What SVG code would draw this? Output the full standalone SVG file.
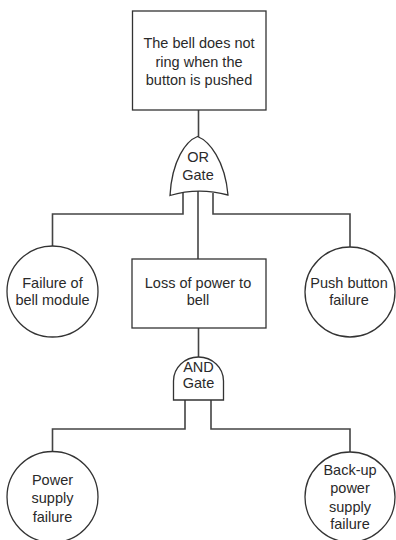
<svg xmlns="http://www.w3.org/2000/svg" width="396" height="540" viewBox="0 0 396 540">
  <style>
    .shape { fill: #ffffff; stroke: #333333; stroke-width: 1.3; }
    .wire { fill: none; stroke: #444444; stroke-width: 1.6; }
    text { font-family: "Liberation Sans", Arial, sans-serif; font-size: 14.5px; fill: #2a2a2a; text-anchor: middle; }
  </style>
  <rect width="396" height="540" fill="#ffffff"/>

  <!-- connectors -->
  <g id="connectors">
    <path class="wire" d="M198.5,110 V137"/>
    <path class="wire" d="M183,193 V214 H52.5 V246"/>
    <path class="wire" d="M198,191 V259"/>
    <path class="wire" d="M213,193 V214 H350 V247"/>
    <path class="wire" d="M198.5,328 V357"/>
    <path class="wire" d="M185,400 V429 H52.5 V452"/>
    <path class="wire" d="M211,400 V429 H350 V452"/>
  </g>

  <!-- top event -->
  <g id="top-event">
    <rect class="shape" x="132.5" y="11" width="133.5" height="99"/>
    <text x="199" y="48">The bell does not</text>
    <text x="199" y="67">ring when the</text>
    <text x="199" y="85">button is pushed</text>
  </g>

  <!-- OR gate -->
  <g id="or-gate">
    <path class="shape" d="M197.5,136.5 C186,141 172,160 170,195.5 Q198.5,187 228,195 C225,160 209,141 197.5,136.5 Z"/>
    <text x="198" y="162">OR</text>
    <text x="198" y="180">Gate</text>
  </g>

  <!-- basic event: bell module -->
  <g id="bell-module">
    <circle class="shape" cx="52.5" cy="291.5" r="45.5"/>
    <text x="52.5" y="288">Failure of</text>
    <text x="52.5" y="305">bell module</text>
  </g>

  <!-- intermediate event -->
  <g id="loss-of-power">
    <rect class="shape" x="132" y="259" width="134" height="69"/>
    <text x="198" y="288">Loss of power to</text>
    <text x="198" y="305">bell</text>
  </g>

  <!-- basic event: push button -->
  <g id="push-button">
    <circle class="shape" cx="350" cy="292" r="45"/>
    <text x="349" y="288">Push button</text>
    <text x="349" y="305">failure</text>
  </g>

  <!-- AND gate -->
  <g id="and-gate">
    <path class="shape" d="M173.5,400 V381 A25,24 0 0 1 223.5,381 V400 Z"/>
    <text x="198.5" y="372">AND</text>
    <text x="198.5" y="388">Gate</text>
  </g>

  <!-- basic event: power supply -->
  <g id="power-supply">
    <circle class="shape" cx="52.5" cy="497" r="45.5"/>
    <text x="52.5" y="485">Power</text>
    <text x="52.5" y="503">supply</text>
    <text x="52.5" y="522">failure</text>
  </g>

  <!-- basic event: back-up power supply -->
  <g id="backup-supply">
    <circle class="shape" cx="350" cy="497" r="45"/>
    <text x="350" y="475">Back-up</text>
    <text x="350" y="493">power</text>
    <text x="350" y="512">supply</text>
    <text x="350" y="529">failure</text>
  </g>
</svg>
